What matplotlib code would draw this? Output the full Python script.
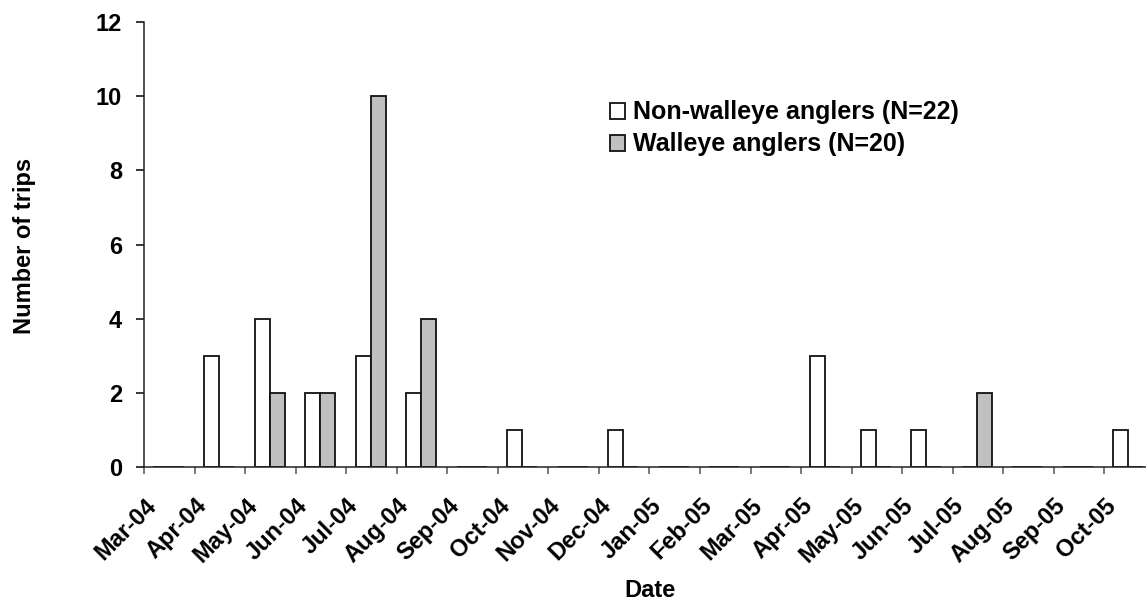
import numpy as np
import matplotlib.pyplot as plt
from matplotlib.transforms import ScaledTranslation

plt.rcParams['font.family'] = ['Liberation Sans', 'DejaVu Sans']
plt.rcParams['font.weight'] = 'bold'

months = ["Mar-04", "Apr-04", "May-04", "Jun-04", "Jul-04", "Aug-04", "Sep-04",
          "Oct-04", "Nov-04", "Dec-04", "Jan-05", "Feb-05", "Mar-05", "Apr-05",
          "May-05", "Jun-05", "Jul-05", "Aug-05", "Sep-05", "Oct-05"]
non_walleye = [0, 3, 4, 2, 3, 2, 0, 1, 0, 1, 0, 0, 0, 3, 1, 1, 0, 0, 0, 1]
walleye = [0, 0, 2, 2, 10, 4, 0, 0, 0, 0, 0, 0, 0, 0, 0, 0, 2, 0, 0, 0]

fig = plt.figure(figsize=(11.46, 6.04), dpi=100)
ax = fig.add_axes([0.126, 0.226, 0.874, 0.738])

x = np.arange(len(months))
w = 0.3
ax.bar(x + 0.48 - w / 2, non_walleye, w, color='white', edgecolor='#111111',
       linewidth=1.3, label='Non-walleye anglers (N=22)')
ax.bar(x + 0.48 + w / 2, walleye, w, color='#c0c0c0', edgecolor='#111111',
       linewidth=1.3, label='Walleye anglers (N=20)')

ax.set_xlim(0, 19.83)
ax.set_ylim(0, 12)
ax.set_yticks(range(0, 13, 2))
ax.set_xticks(x)
ax.set_xticklabels(months, rotation=45, ha='right', va='top', rotation_mode='anchor')
# shift rotated labels a bit to the right of their tick, like the Excel original
for lab in ax.get_xticklabels():
    lab.set_transform(lab.get_transform() + ScaledTranslation(0.09, 0, fig.dpi_scale_trans))

for s in ['top', 'right']:
    ax.spines[s].set_visible(False)
for s in ['left', 'bottom']:
    ax.spines[s].set_linewidth(1.1)
    ax.spines[s].set_color('#222222')
ax.tick_params(axis='y', direction='out', length=6, width=1.1, labelsize=17, pad=10)
ax.tick_params(axis='x', direction='out', length=5, width=1.1, labelsize=17, pad=14,
               color='#555555')

fig.text(25 / 1146, 1 - 246 / 604, 'Number of trips', rotation=90, ha='center',
         va='center', fontsize=17, fontweight='bold')
fig.text(650 / 1146, 0.003, 'Date', ha='center', va='bottom',
         fontsize=17, fontweight='bold')

fig.legend(loc='upper left', bbox_to_anchor=(597 / 1146, 1 - 88 / 604),
           bbox_transform=fig.transFigure, frameon=False,
           fontsize=18, handlelength=0.6, handleheight=0.6,
           handletextpad=0.35, labelspacing=0.32, borderpad=0)

fig.savefig('out.png', dpi=100)
